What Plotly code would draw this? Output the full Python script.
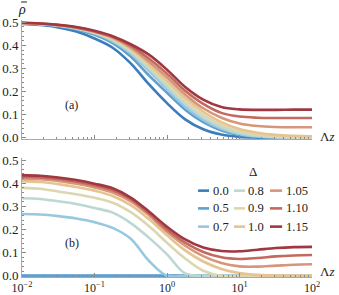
import plotly.graph_objects as go

# ---- data -------------------------------------------------------------
lam_z = [0.01, 0.0178, 0.0316, 0.0562, 0.1, 0.178, 0.316, 0.562, 1.0,
         1.78, 3.16, 5.62, 10.0, 17.8, 31.6, 56.2, 100.0]

delta_labels = ["0.0", "0.5", "0.7", "0.8", "0.9", "1.0", "1.05", "1.10", "1.15"]
delta_colors = ["#3b7dbb", "#5fa0cd", "#96c8e0", "#bdd7d2", "#dcd7af",
                "#e6c391", "#d79678", "#c3695f", "#a03741"]

# panel (a)
a_000 = [0.493, 0.488, 0.478, 0.460, 0.430, 0.390, 0.322, 0.232, 0.150, 0.080, 0.037, 0.014, 0.004, 0.001, 0.0, 0.0, 0.0]
a_050 = [0.495, 0.491, 0.483, 0.469, 0.446, 0.410, 0.352, 0.270, 0.195, 0.122, 0.068, 0.032, 0.012, 0.004, 0.001, 0.0, 0.0]
a_070 = [0.496, 0.492, 0.485, 0.472, 0.451, 0.418, 0.365, 0.290, 0.210, 0.135, 0.078, 0.039, 0.016, 0.006, 0.002, 0.0, 0.0]
a_080 = [0.496, 0.493, 0.486, 0.474, 0.454, 0.423, 0.372, 0.300, 0.222, 0.147, 0.088, 0.046, 0.021, 0.008, 0.003, 0.001, 0.0]
a_090 = [0.497, 0.493, 0.487, 0.475, 0.456, 0.427, 0.379, 0.310, 0.235, 0.160, 0.100, 0.056, 0.028, 0.013, 0.006, 0.003, 0.002]
a_100 = [0.497, 0.494, 0.487, 0.476, 0.458, 0.431, 0.386, 0.320, 0.248, 0.173, 0.113, 0.068, 0.038, 0.022, 0.013, 0.009, 0.007]
a_105 = [0.497, 0.494, 0.488, 0.477, 0.459, 0.434, 0.391, 0.330, 0.262, 0.188, 0.128, 0.087, 0.062, 0.051, 0.047, 0.046, 0.046]
a_110 = [0.498, 0.495, 0.488, 0.478, 0.461, 0.437, 0.398, 0.343, 0.278, 0.204, 0.147, 0.108, 0.092, 0.087, 0.086, 0.086, 0.086]
a_115 = [0.498, 0.495, 0.489, 0.480, 0.463, 0.440, 0.405, 0.360, 0.295, 0.220, 0.165, 0.133, 0.123, 0.121, 0.121, 0.122, 0.122]

# panel (b)
b_000 = [0.0, 0.0, 0.0, 0.0, 0.0, 0.0, 0.0, 0.0, 0.0, 0.0, 0.0, 0.0, 0.0, 0.0, 0.0, 0.0, 0.0]
b_050 = [0.0, 0.0, 0.0, 0.0, 0.0, 0.0, 0.0, 0.0, 0.0, 0.0, 0.0, 0.0, 0.0, 0.0, 0.0, 0.0, 0.0]
b_070 = [0.267, 0.265, 0.258, 0.248, 0.232, 0.207, 0.160, 0.065, 0.0, 0.0, 0.0, 0.0, 0.0, 0.0, 0.0, 0.0, 0.0]
b_080 = [0.335, 0.332, 0.322, 0.310, 0.293, 0.273, 0.228, 0.165, 0.093, 0.010, 0.0, 0.0, 0.0, 0.0, 0.0, 0.0, 0.0]
b_090 = [0.380, 0.376, 0.364, 0.352, 0.337, 0.316, 0.275, 0.215, 0.143, 0.075, 0.022, 0.0, 0.0, 0.0, 0.0, 0.0, 0.0]
b_100 = [0.409, 0.405, 0.396, 0.384, 0.368, 0.345, 0.305, 0.245, 0.175, 0.110, 0.062, 0.030, 0.012, 0.004, 0.001, 0.0, 0.0]
b_105 = [0.420, 0.417, 0.410, 0.398, 0.382, 0.360, 0.322, 0.262, 0.190, 0.130, 0.085, 0.055, 0.041, 0.040, 0.044, 0.048, 0.050]
b_110 = [0.428, 0.425, 0.418, 0.406, 0.390, 0.369, 0.331, 0.270, 0.200, 0.143, 0.103, 0.080, 0.073, 0.077, 0.084, 0.088, 0.090]
b_115 = [0.435, 0.432, 0.425, 0.414, 0.398, 0.378, 0.338, 0.278, 0.212, 0.157, 0.122, 0.107, 0.106, 0.113, 0.120, 0.124, 0.125]

panel_a = [a_000, a_050, a_070, a_080, a_090, a_100, a_105, a_110, a_115]
panel_b = [b_000, b_050, b_070, b_080, b_090, b_100, b_105, b_110, b_115]

x_tickvals = [0.01, 0.1, 1, 10, 100]
x_ticktext = ["10<sup>\u22122</sup>", "10<sup>\u22121</sup>", "10<sup>0</sup>", "10<sup>1</sup>", "10<sup>2</sup>"]
y_tickvals = [0.0, 0.1, 0.2, 0.3, 0.4, 0.5]
y_ticktext = ["0.0", "0.1", "0.2", "0.3", "0.4", "0.5"]

# ---- figure -----------------------------------------------------------
fig = go.Figure()
for lab, col, ya in zip(delta_labels, delta_colors, panel_a):
    fig.add_trace(go.Scatter(x=lam_z, y=ya, mode="lines", name=lab,
                             line=dict(color=col, width=2.6, shape="spline", smoothing=1.0),
                             xaxis="x", yaxis="y", showlegend=False))
for lab, col, yb in zip(delta_labels, delta_colors, panel_b):
    fig.add_trace(go.Scatter(x=lam_z, y=yb, mode="lines", name=lab,
                             line=dict(color=col, width=2.6, shape="spline", smoothing=1.0),
                             xaxis="x2", yaxis="y2", showlegend=False))

minor_x = [m * 10.0 ** e for e in (-2, -1, 0, 1) for m in range(2, 10)]
axis_col = "#a8a8a8"
tick_col = "#8a8a8a"
serif = "Liberation Serif"

common_x = dict(type="log", range=[-2, 2], showline=True, linecolor=axis_col, linewidth=1,
                ticks="inside", ticklen=4, tickcolor=tick_col, tickwidth=1, automargin=False,
                tickvals=x_tickvals, showgrid=False, zeroline=False, mirror=False,
                tickfont=dict(family=serif, size=12, color="#222222"),
                minor=dict(tickvals=minor_x, ticks="inside", ticklen=2, tickcolor=tick_col, showgrid=False))
common_y = dict(range=[-0.005, 0.51], showline=True, linecolor=axis_col, linewidth=1,
                ticks="inside", ticklen=4, tickcolor=tick_col, tickwidth=1, automargin=False,
                tickvals=y_tickvals, ticktext=y_ticktext, showgrid=False, zeroline=False,
                tickfont=dict(family=serif, size=13, color="#222222"),
                minor=dict(dtick=0.02, tick0=0, ticks="inside", ticklen=2, tickcolor=tick_col, showgrid=False))

fig.update_layout(
    width=339, height=295,
    margin=dict(l=22, r=27, t=20, b=18, autoexpand=False),
    paper_bgcolor="white", plot_bgcolor="white",
    font=dict(family=serif, size=12, color="#222222"),
    showlegend=False,
    xaxis=dict(common_x, domain=[0, 1], anchor="y", showticklabels=False),
    yaxis=dict(common_y, domain=[0.537, 1.0], anchor="x"),
    xaxis2=dict(common_x, domain=[0, 1], anchor="y2", ticktext=x_ticktext, showticklabels=True),
    yaxis2=dict(common_y, domain=[0.0, 0.464], anchor="x2"),
)

ann = []
ann.append(dict(x=0.0, y=1.04, xref="paper", yref="paper", text="<i>\u03c1</i>",
                showarrow=False, font=dict(family=serif, size=14), xanchor="center", yanchor="middle"))
ann.append(dict(x=1.052, y=0.548, xref="paper", yref="paper", text="\u039b<i>z</i>",
                showarrow=False, font=dict(family=serif, size=13), xanchor="center", yanchor="middle"))
ann.append(dict(x=1.052, y=0.022, xref="paper", yref="paper", text="\u039b<i>z</i>",
                showarrow=False, font=dict(family=serif, size=13), xanchor="center", yanchor="middle"))
ann.append(dict(x=0.172, y=0.669, xref="paper", yref="paper", text="(a)",
                showarrow=False, font=dict(family=serif, size=12), xanchor="center", yanchor="middle"))
ann.append(dict(x=0.172, y=0.132, xref="paper", yref="paper", text="(b)",
                showarrow=False, font=dict(family=serif, size=12), xanchor="center", yanchor="middle"))
ann.append(dict(x=0.797, y=0.409, xref="paper", yref="paper", text="\u0394",
                showarrow=False, font=dict(family=serif, size=13), xanchor="center", yanchor="middle"))

shapes = []
# bar over rho
shapes.append(dict(type="line", xref="paper", yref="paper", x0=-0.003, x1=0.017, y0=1.07, y1=1.07,
                   line=dict(color="#222222", width=1)))

# legend (3 columns x 3 rows, column-major)
col_swatch = [(0.607, 0.645), (0.731, 0.769), (0.855, 0.897)]
col_text = [0.652, 0.774, 0.904]
row_y = [0.336, 0.267, 0.196]
for i, (lab, col) in enumerate(zip(delta_labels, delta_colors)):
    c, r = i // 3, i % 3
    shapes.append(dict(type="line", xref="paper", yref="paper",
                       x0=col_swatch[c][0], x1=col_swatch[c][1], y0=row_y[r], y1=row_y[r],
                       line=dict(color=col, width=2.6)))
    ann.append(dict(x=col_text[c], y=row_y[r], xref="paper", yref="paper", text=lab,
                    showarrow=False, font=dict(family=serif, size=12.5), xanchor="left", yanchor="middle"))

fig.update_layout(annotations=ann, shapes=shapes)
fig.write_html("out.html", config={"displayModeBar": False},
               post_script="document.body.style.margin='0px';document.body.style.overflow='hidden';")
